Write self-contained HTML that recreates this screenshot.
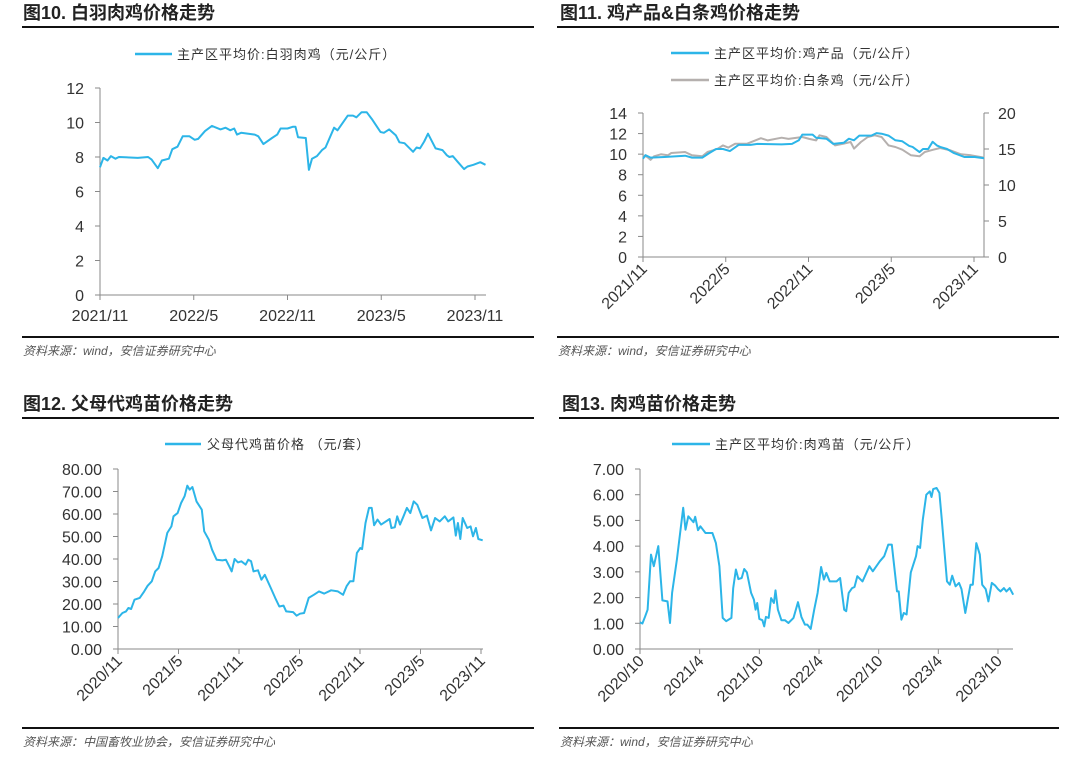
<!DOCTYPE html>
<html><head><meta charset="utf-8">
<style>
body{margin:0;background:#fff;}
svg{display:block;font-family:"Liberation Sans","Noto Sans CJK SC",sans-serif;}
.ttl{font-size:18px;font-weight:bold;fill:#222;}
.leg{font-size:13px;fill:#333;letter-spacing:1px;}
.tk{font-size:16px;fill:#333;}
.src{font-size:12px;fill:#555;font-style:italic;}
</style></head>
<body>
<svg id="chart" width="1080" height="761" viewBox="0 0 1080 761">
<g>
<text class="ttl" x="23" y="19">图10. 白羽肉鸡价格走势</text>
<rect x="22" y="26" width="512" height="2" fill="#111"/>
<line x1="135" y1="54" x2="172" y2="54" stroke="#2cb5e8" stroke-width="2.5"/>
<text class="leg" x="177" y="59">主产区平均价:白羽肉鸡（元/公斤）</text>
<g id="p1"></g>
<rect x="22" y="336" width="512" height="2" fill="#111"/>
<text class="src" x="23" y="355">资料来源：wind，安信证券研究中心</text>
</g>
<g>
<text class="ttl" x="560" y="19">图11. 鸡产品&amp;白条鸡价格走势</text>
<rect x="557" y="26" width="502" height="2" fill="#111"/>
<line x1="671" y1="53" x2="709" y2="53" stroke="#2cb5e8" stroke-width="2.5"/>
<text class="leg" x="714" y="58">主产区平均价:鸡产品（元/公斤）</text>
<line x1="671" y1="80" x2="709" y2="80" stroke="#b5b0ae" stroke-width="2.5"/>
<text class="leg" x="714" y="85">主产区平均价:白条鸡（元/公斤）</text>
<g id="p2"></g>
<rect x="557" y="336" width="502" height="2" fill="#111"/>
<text class="src" x="558" y="355">资料来源：wind，安信证券研究中心</text>
</g>
<g>
<text class="ttl" x="23" y="410">图12. 父母代鸡苗价格走势</text>
<rect x="22" y="417" width="512" height="2" fill="#111"/>
<line x1="165" y1="444" x2="201" y2="444" stroke="#2cb5e8" stroke-width="2.5"/>
<text class="leg" x="207" y="449">父母代鸡苗价格 （元/套）</text>
<g id="p3"></g>
<rect x="22" y="727" width="512" height="2" fill="#111"/>
<text class="src" x="23" y="746">资料来源：中国畜牧业协会，安信证券研究中心</text>
</g>
<g>
<text class="ttl" x="562" y="410">图13. 肉鸡苗价格走势</text>
<rect x="559" y="417" width="500" height="2" fill="#111"/>
<line x1="672" y1="444" x2="710" y2="444" stroke="#2cb5e8" stroke-width="2.5"/>
<text class="leg" x="715" y="449">主产区平均价:肉鸡苗（元/公斤）</text>
<g id="p4"></g>
<rect x="559" y="727" width="500" height="2" fill="#111"/>
<text class="src" x="560" y="746">资料来源：wind，安信证券研究中心</text>
</g>
</svg>
<script>
// Fig 10 data: months since 2021/11, price
const p1Months=[0,0.22,0.48,0.70,0.99,1.21,2.42,3.08,3.30,3.70,3.96,4.41,4.63,4.96,5.29,5.73,6.06,6.28,6.72,7.16,7.71,8.04,8.33,8.59,8.77,9.03,9.91,10.13,10.46,11.01,11.34,11.56,12.00,12.33,12.51,12.67,13.17,13.37,13.57,13.88,14.21,14.43,14.98,15.20,15.86,16.19,16.41,16.74,17.07,17.40,17.95,18.17,18.50,18.94,19.16,19.49,20.04,20.26,20.48,20.75,20.99,21.48,21.92,22.20,22.36,22.58,22.91,23.30,23.52,23.90,24.34,24.67];
const p1Values=[7.4,7.95,7.8,8.05,7.9,8.0,7.95,8.0,7.85,7.35,7.8,7.9,8.45,8.6,9.2,9.2,9.0,9.05,9.5,9.8,9.6,9.7,9.55,9.65,9.3,9.4,9.3,9.2,8.75,9.1,9.3,9.65,9.65,9.75,9.75,9.15,9.1,7.25,7.9,8.05,8.4,8.55,9.7,9.55,10.4,10.4,10.3,10.6,10.6,10.2,9.45,9.4,9.6,9.25,8.85,8.8,8.3,8.55,8.5,8.9,9.35,8.5,8.4,8.1,8.0,8.05,7.7,7.3,7.45,7.55,7.7,7.55];
const p1YTicks=[0,2,4,6,8,10,12];
const p1XLabels=["2021/11","2022/5","2022/11","2023/5","2023/11"];
// Fig 11
const p2BlueMonths=[0,.18,.55,1.55,3.05,3.55,4.3,4.8,5.3,5.8,6.3,6.93,7.8,8.3,10.05,10.8,11.3,11.55,12.3,12.55,13.3,13.8,14.55,14.93,15.3,15.68,16.55,16.93,17.3,17.8,18.3,18.8,19.3,19.55,20.05,20.3,20.68,21.0,21.3,21.55,22.05,22.55,23.3,24.05,24.73];
const p2BlueValues=[9.56,9.9,9.66,9.72,9.85,9.66,9.66,10.1,10.5,10.5,10.3,10.9,10.9,11.0,10.95,11.0,11.35,11.9,11.9,11.6,11.5,11.0,11.1,11.5,11.35,11.8,11.8,12.05,11.99,11.8,11.35,11.25,10.8,10.7,10.2,10.5,10.5,11.2,10.85,10.7,10.5,10.1,9.72,9.72,9.6];
const p2GrayMonths=[0,.3,.55,.8,1.3,1.8,2.05,3.05,3.55,4.3,4.68,5.05,5.43,5.8,6.18,6.68,7.55,8.55,9.05,10.05,10.55,11.55,12.05,12.55,12.8,13.3,13.93,14.55,15.05,15.3,15.8,16.3,16.8,17.3,17.8,18.3,18.8,19.43,20.05,20.43,21.05,21.55,22.3,23.05,23.8,24.73];
const p2GrayValues=[14.12,13.9,13.5,13.98,14.26,14.12,14.44,14.58,14.12,13.98,14.58,14.8,15.05,15.5,15.2,15.74,15.74,16.5,16.2,16.57,16.4,16.67,16.4,16.2,16.9,16.67,15.5,15.74,15.97,15.05,15.97,16.67,16.9,16.67,15.5,15.28,14.9,14.12,13.98,14.58,14.9,15.14,14.8,14.26,14.12,13.8];
const p2LeftTicks=[0,2,4,6,8,10,12,14];
const p2RightTicks=[0,5,10,15,20];
const p2XLabels=["2021/11","2022/5","2022/11","2023/5","2023/11"];
// Fig 12
const p3Months=[0,0.44,0.79,1.03,1.3,1.64,2.15,2.6,2.94,3.35,3.69,4.03,4.38,4.89,5.3,5.5,5.91,6.26,6.6,6.87,7.11,7.38,7.79,8.31,8.55,9.0,9.33,9.78,10.36,10.7,11.04,11.28,11.56,11.9,12.24,12.65,12.92,13.2,13.44,13.88,14.22,14.56,15.15,15.59,16.0,16.41,16.68,17.37,17.71,18.05,18.46,18.91,19.42,19.93,20.44,21.13,21.81,22.32,22.67,23.01,23.35,23.69,24.03,24.21,24.55,24.89,25.16,25.4,25.74,26.09,26.94,27.11,27.45,27.69,27.97,28.31,28.65,28.99,29.33,29.68,30.19,30.63,31.04,31.45,31.9,32.41,32.75,33.26,33.5,33.71,33.95,34.19,34.63,34.97,35.21,35.49,35.73,36.17];
const p3Values=[13.8,16,16.7,18.2,17.8,21.9,22.7,25.6,28.1,30.1,34.5,36,41.2,51.6,54.5,59,60.4,64.9,67.9,72.6,70.8,72,65.6,61.9,52.3,48.6,44.1,39.7,39.4,39.7,36.7,34.5,40,38.5,39,37.5,39.7,39,34.5,35,30.8,33,27.1,22.7,18.9,19.3,16.7,16.4,14.8,15.7,16,22.7,24.1,25.6,24.6,26.1,25.6,24.1,27.9,30.1,30.1,42.7,44.9,44.4,56,62.7,62.7,55,57.5,55.3,57.8,53.8,54.1,59,55.3,59,62.7,60.4,65.6,64.1,58.2,59.3,52.7,58.2,56.7,59,56.7,58.5,50.4,56,48.9,58.2,53.8,54.5,50.1,53.8,48.9,48.3];
const p3YTicks=[0,10,20,30,40,50,60,70,80];
const p3XLabels=["2020/11","2021/5","2021/11","2022/5","2022/11","2023/5","2023/11"];
// Fig 13
const p4Months=[0,0.24,0.52,0.76,1.11,1.39,1.84,2.25,2.77,3.02,3.23,3.71,4.34,4.58,4.86,5.38,5.55,5.83,6.07,6.59,7.28,7.63,7.98,8.32,8.67,9.19,9.37,9.64,9.89,10.23,10.48,10.75,11.17,11.45,11.62,11.79,12.0,12.31,12.49,12.66,12.94,13.18,13.46,13.63,13.87,14.22,14.57,14.92,15.44,15.89,16.23,16.58,16.82,17.17,17.52,17.86,18.21,18.49,18.73,19.08,19.77,20.12,20.53,20.74,20.99,21.33,21.57,21.85,22.37,23.07,23.41,24.11,24.56,24.97,25.32,25.84,26.01,26.29,26.53,26.81,27.23,27.75,27.92,28.17,28.44,28.79,29.14,29.31,29.48,29.83,30.11,30.35,30.87,31.15,31.39,31.74,32.08,32.33,32.71,32.95,33.23,33.47,33.82,34.17,34.41,34.76,35.03,35.38,35.73,36.0,36.25,36.59,36.84,37.18,37.53];
const p4Values=[1.04,0.99,1.27,1.53,3.67,3.22,4.0,1.89,1.85,1.01,2.18,3.48,5.49,4.64,5.16,4.93,5.14,4.62,4.77,4.51,4.51,4.12,3.22,1.21,1.08,1.21,2.37,3.09,2.72,2.76,3.11,2.98,2.18,1.92,1.53,1.79,1.17,1.12,0.88,1.25,1.21,1.98,1.79,2.28,1.53,1.12,1.12,1.01,1.21,1.82,1.25,0.95,0.95,0.78,1.53,2.18,3.19,2.7,2.96,2.63,2.63,2.76,1.53,1.47,2.18,2.37,2.41,2.83,2.63,3.22,3.02,3.41,3.61,4.06,4.06,2.24,2.24,1.14,1.4,1.34,2.98,3.61,4.0,3.93,5.03,6.0,6.13,5.91,6.22,6.26,6.07,5.03,2.63,2.5,2.85,2.44,2.57,2.33,1.4,1.92,2.5,2.5,4.12,3.67,2.5,2.33,1.85,2.57,2.46,2.33,2.24,2.37,2.24,2.37,2.11];
const p4YTicks=[0,1,2,3,4,5,6,7];
const p4XLabels=["2020/10","2021/4","2021/10","2022/4","2022/10","2023/4","2023/10"];

const NS="http://www.w3.org/2000/svg";
function mk(parent,tag,attrs){const e=document.createElementNS(NS,tag);for(const k in attrs)e.setAttribute(k,attrs[k]);parent.appendChild(e);return e;}
function lin(d0,d1,r0,r1){return v=>r0+(v-d0)*(r1-r0)/(d1-d0);}
const AX="#8a8a8a";

function yAxis(g,x,ticks,ys,fmt,side){
  const l=mk(g,"line",{x1:x,x2:x,y1:ys(ticks[ticks.length-1]),y2:ys(ticks[0]),stroke:AX,"stroke-width":1});
  
  
  ticks.forEach(t=>{
    const y=ys(t);
    const tk=mk(g,"line",{x1:side==="right"?x:x-5,x2:side==="right"?x+5:x,y1:y,y2:y,stroke:AX});
    
    
    const tx=mk(g,"text",{class:"tk",x:side==="right"?x+14:x-16,y:y+6,"text-anchor":side==="right"?"start":"end"});
    tx.textContent=fmt(t);
    
    
  });
}
function xAxis(g,x0,x1,y,labels,tickXs,rot){
  const l=mk(g,"line",{x1:x0,x2:x1,y1:y,y2:y,stroke:AX});
  
  
  labels.forEach((lb,i)=>{
    const x=tickXs[i];
    const tk=mk(g,"line",{x1:x,x2:x,y1:y,y2:y+5,stroke:AX});
    
    
    let tx;
    if(rot){tx=mk(g,"text",{class:"tk",x:x+5,y:y+13,"text-anchor":"end",transform:`rotate(-45 ${x+5} ${y+13})`});}
    else{tx=mk(g,"text",{class:"tk",x:x,y:y+26,"text-anchor":"middle"});}
    tx.textContent=lb;
    
    
  });
}
function line(g,xs,ys,ts,vs,color,name){
  const d=ts.map((t,i)=>(i?"L":"M")+xs(t).toFixed(1)+","+ys(vs[i]).toFixed(1)).join("");
  const p=mk(g,"path",{d:d,fill:"none",stroke:color,"stroke-width":2,"stroke-linejoin":"round"});
  
  
}
(function(){
  const g=document.getElementById("p1");
  const xs=lin(0,24,100,475), ys=lin(0,12,295,88);
  yAxis(g,100,p1YTicks,ys,v=>String(v),"left");
  xAxis(g,100,486,295,p1XLabels,p1XLabels.map((_,i)=>xs(i*6)),false);
  line(g,xs,ys,p1Months,p1Values,"#2cb5e8","series-white-feather-broiler");
})();
(function(){
  const g=document.getElementById("p2");
  const xs=lin(0,24,643,974), ys=lin(0,14,257,113), yr=lin(0,20,257,113);
  yAxis(g,643,p2LeftTicks,ys,v=>String(v),"left");
  yAxis(g,984,p2RightTicks,yr,v=>String(v),"right");
  xAxis(g,643,984,257,p2XLabels,p2XLabels.map((_,i)=>xs(i*6)),true);
  line(g,xs,yr,p2GrayMonths,p2GrayValues,"#b5b0ae","series-white-strip-chicken");
  line(g,xs,ys,p2BlueMonths,p2BlueValues,"#2cb5e8","series-chicken-products");
})();
(function(){
  const g=document.getElementById("p3");
  const xs=lin(0,36,118,481), ys=lin(0,80,649,469);
  yAxis(g,118,p3YTicks,ys,v=>v.toFixed(2),"left");
  xAxis(g,118,483,649,p3XLabels,p3XLabels.map((_,i)=>xs(i*6)),true);
  line(g,xs,ys,p3Months,p3Values,"#2cb5e8","series-parent-chick");
})();
(function(){
  const g=document.getElementById("p4");
  const xs=lin(0,36,640,998), ys=lin(0,7,649,469);
  yAxis(g,640,p4YTicks,ys,v=>v.toFixed(2),"left");
  xAxis(g,640,1013,649,p4XLabels,p4XLabels.map((_,i)=>xs(i*6)),true);
  line(g,xs,ys,p4Months,p4Values,"#2cb5e8","series-broiler-chick");
})();
</script>
</body></html>
